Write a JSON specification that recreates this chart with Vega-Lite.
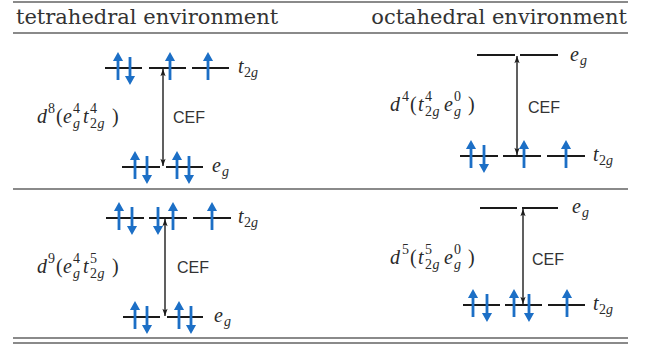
{
  "$schema": "https://vega.github.io/schema/vega-lite/v6.json",
  "width": 648,
  "height": 349,
  "autosize": {"type": "fit", "contains": "padding"},
  "padding": 0,
  "background": "white",
  "config": {"view": {"stroke": null}},
  "datasets": {
    "hlines": [
      {"x": 13, "x2": 628, "y": 2},
      {"x": 13, "x2": 628, "y": 33},
      {"x": 13, "x2": 628, "y": 189},
      {"x": 13, "x2": 628, "y": 338},
      {"x": 13, "x2": 628, "y": 343}
    ],
    "levels": [
      {"x": 105, "x2": 142, "y": 68}, {"x": 149, "x2": 186, "y": 68}, {"x": 192, "x2": 229, "y": 68},
      {"x": 122, "x2": 160, "y": 167}, {"x": 166, "x2": 203, "y": 167},
      {"x": 477, "x2": 515, "y": 55}, {"x": 520, "x2": 558, "y": 55},
      {"x": 460, "x2": 498, "y": 156}, {"x": 503, "x2": 541, "y": 156}, {"x": 547, "x2": 585, "y": 156},
      {"x": 106, "x2": 144, "y": 218}, {"x": 149, "x2": 187, "y": 218}, {"x": 193, "x2": 231, "y": 218},
      {"x": 123, "x2": 160, "y": 317}, {"x": 167, "x2": 203, "y": 317},
      {"x": 480, "x2": 517, "y": 208}, {"x": 522, "x2": 558, "y": 208},
      {"x": 463, "x2": 500, "y": 305}, {"x": 505, "x2": 542, "y": 305}, {"x": 548, "x2": 585, "y": 305}
    ],
    "spins": [
      {"x": 118, "y": 68, "dir": "up"}, {"x": 130, "y": 68, "dir": "down"}, {"x": 170, "y": 68, "dir": "up"}, {"x": 208, "y": 68, "dir": "up"},
      {"x": 135, "y": 167, "dir": "up"}, {"x": 147, "y": 167, "dir": "down"}, {"x": 177, "y": 167, "dir": "up"}, {"x": 189, "y": 167, "dir": "down"},
      {"x": 471, "y": 156, "dir": "up"}, {"x": 484, "y": 156, "dir": "down"}, {"x": 524, "y": 156, "dir": "up"}, {"x": 566, "y": 156, "dir": "up"},
      {"x": 119, "y": 218, "dir": "up"}, {"x": 132, "y": 218, "dir": "down"}, {"x": 158, "y": 218, "dir": "down"}, {"x": 173, "y": 218, "dir": "up"}, {"x": 212, "y": 218, "dir": "up"},
      {"x": 135, "y": 317, "dir": "up"}, {"x": 147, "y": 317, "dir": "down"}, {"x": 179, "y": 317, "dir": "up"}, {"x": 191, "y": 317, "dir": "down"},
      {"x": 473, "y": 305, "dir": "up"}, {"x": 487, "y": 305, "dir": "down"}, {"x": 514, "y": 305, "dir": "up"}, {"x": 529, "y": 305, "dir": "down"}, {"x": 567, "y": 305, "dir": "up"}
    ],
    "cef": [
      {"x": 163, "y": 69, "y2": 166},
      {"x": 517, "y": 56, "y2": 155},
      {"x": 165, "y": 219, "y2": 316},
      {"x": 523, "y": 209, "y2": 304}
    ],
    "heads": [
      {"x": 163, "y": 69, "dir": "up"}, {"x": 163, "y": 166, "dir": "down"},
      {"x": 517, "y": 56, "dir": "up"}, {"x": 517, "y": 155, "dir": "down"},
      {"x": 165, "y": 219, "dir": "up"}, {"x": 165, "y": 316, "dir": "down"},
      {"x": 523, "y": 209, "dir": "up"}, {"x": 523, "y": 304, "dir": "down"}
    ],
    "header": [
      {"x": 16, "y": 24, "text": "tetrahedral environment"},
      {"x": 627, "y": 24, "text": "octahedral environment"}
    ],
    "cefText": [
      {"x": 173, "y": 118, "text": "CEF"},
      {"x": 528, "y": 108, "text": "CEF"},
      {"x": 177, "y": 268, "text": "CEF"},
      {"x": 532, "y": 260, "text": "CEF"}
    ],
    "mathItalic": [
      {"x": 238, "y": 73, "text": "t"}, {"x": 212, "y": 172, "text": "e"},
      {"x": 570, "y": 61, "text": "e"}, {"x": 593, "y": 161, "text": "t"},
      {"x": 238, "y": 223, "text": "t"}, {"x": 214, "y": 322, "text": "e"},
      {"x": 572, "y": 213, "text": "e"}, {"x": 593, "y": 310, "text": "t"},
      {"x": 37, "y": 123, "text": "d"}, {"x": 63, "y": 123, "text": "e"}, {"x": 83, "y": 123, "text": "t"},
      {"x": 390, "y": 111, "text": "d"}, {"x": 418, "y": 111, "text": "t"}, {"x": 444, "y": 111, "text": "e"},
      {"x": 37, "y": 273, "text": "d"}, {"x": 63, "y": 273, "text": "e"}, {"x": 83, "y": 273, "text": "t"},
      {"x": 390, "y": 264, "text": "d"}, {"x": 418, "y": 264, "text": "t"}, {"x": 444, "y": 264, "text": "e"}
    ],
    "mathRoman": [
      {"x": 56, "y": 123, "text": "("}, {"x": 112, "y": 123, "text": ")"},
      {"x": 410, "y": 111, "text": "("}, {"x": 468, "y": 111, "text": ")"},
      {"x": 56, "y": 273, "text": "("}, {"x": 112, "y": 273, "text": ")"},
      {"x": 410, "y": 264, "text": "("}, {"x": 468, "y": 264, "text": ")"}
    ],
    "scriptRoman": [
      {"x": 244, "y": 77, "text": "2"}, {"x": 599, "y": 165, "text": "2"},
      {"x": 244, "y": 227, "text": "2"}, {"x": 599, "y": 314, "text": "2"},
      {"x": 48, "y": 113, "text": "8"}, {"x": 73, "y": 113, "text": "4"}, {"x": 90, "y": 113, "text": "4"}, {"x": 90, "y": 128, "text": "2"},
      {"x": 402, "y": 101, "text": "4"}, {"x": 425, "y": 101, "text": "4"}, {"x": 425, "y": 116, "text": "2"}, {"x": 454, "y": 101, "text": "0"},
      {"x": 48, "y": 263, "text": "9"}, {"x": 73, "y": 263, "text": "4"}, {"x": 90, "y": 263, "text": "5"}, {"x": 90, "y": 278, "text": "2"},
      {"x": 402, "y": 254, "text": "5"}, {"x": 425, "y": 254, "text": "5"}, {"x": 425, "y": 269, "text": "2"}, {"x": 454, "y": 254, "text": "0"}
    ],
    "scriptItalic": [
      {"x": 251, "y": 77, "text": "g"}, {"x": 222, "y": 176, "text": "g"},
      {"x": 580, "y": 65, "text": "g"}, {"x": 606, "y": 165, "text": "g"},
      {"x": 251, "y": 227, "text": "g"}, {"x": 224, "y": 326, "text": "g"},
      {"x": 582, "y": 217, "text": "g"}, {"x": 606, "y": 314, "text": "g"},
      {"x": 73, "y": 128, "text": "g"}, {"x": 97.5, "y": 128, "text": "g"},
      {"x": 432.5, "y": 116, "text": "g"}, {"x": 454, "y": 116, "text": "g"},
      {"x": 73, "y": 278, "text": "g"}, {"x": 97.5, "y": 278, "text": "g"},
      {"x": 432.5, "y": 269, "text": "g"}, {"x": 454, "y": 269, "text": "g"}
    ]
  },
  "layer": [
    {
      "data": {"name": "hlines"},
      "mark": {"type": "rule", "color": "#8a8a8a", "strokeWidth": 2},
      "encoding": {
        "x": {"field": "x", "type": "quantitative", "scale": {"domain": [0, 648], "nice": false}, "axis": null},
        "x2": {"field": "x2"},
        "y": {"field": "y", "type": "quantitative", "scale": {"domain": [0, 349], "reverse": true, "nice": false}, "axis": null}
      }
    },
    {
      "data": {"name": "levels"},
      "mark": {"type": "rule", "color": "#1a1a1a", "strokeWidth": 2},
      "encoding": {
        "x": {"field": "x", "type": "quantitative", "scale": {"domain": [0, 648], "nice": false}, "axis": null},
        "x2": {"field": "x2"},
        "y": {"field": "y", "type": "quantitative", "scale": {"domain": [0, 349], "reverse": true, "nice": false}, "axis": null}
      }
    },
    {
      "data": {"name": "cef"},
      "mark": {"type": "rule", "color": "#2b2b2b", "strokeWidth": 1.5},
      "encoding": {
        "x": {"field": "x", "type": "quantitative", "scale": {"domain": [0, 648], "nice": false}, "axis": null},
        "y": {"field": "y", "type": "quantitative", "scale": {"domain": [0, 349], "reverse": true, "nice": false}, "axis": null},
        "y2": {"field": "y2"}
      }
    },
    {
      "data": {"name": "heads"},
      "transform": [{"filter": "datum.dir === 'up'"}],
      "mark": {"type": "point", "filled": true, "color": "#1a1a1a", "opacity": 1, "strokeWidth": 0, "size": 64, "yOffset": 4, "shape": "M0,-1L0.65,0.8L0,0.35L-0.65,0.8Z"},
      "encoding": {
        "x": {"field": "x", "type": "quantitative", "scale": {"domain": [0, 648], "nice": false}, "axis": null},
        "y": {"field": "y", "type": "quantitative", "scale": {"domain": [0, 349], "reverse": true, "nice": false}, "axis": null}
      }
    },
    {
      "data": {"name": "heads"},
      "transform": [{"filter": "datum.dir === 'down'"}],
      "mark": {"type": "point", "filled": true, "color": "#1a1a1a", "opacity": 1, "strokeWidth": 0, "size": 64, "yOffset": -4, "shape": "M0,1L0.65,-0.8L0,-0.35L-0.65,-0.8Z"},
      "encoding": {
        "x": {"field": "x", "type": "quantitative", "scale": {"domain": [0, 648], "nice": false}, "axis": null},
        "y": {"field": "y", "type": "quantitative", "scale": {"domain": [0, 349], "reverse": true, "nice": false}, "axis": null}
      }
    },
    {
      "data": {"name": "spins"},
      "transform": [{"filter": "datum.dir === 'up'"}],
      "mark": {"type": "point", "filled": true, "color": "#1c6fc6", "opacity": 1, "strokeWidth": 0, "size": 784, "yOffset": -2, "shape": "M0,-1L0.36,-0.35L0.1,-0.35L0.1,1L-0.1,1L-0.1,-0.35L-0.36,-0.35Z"},
      "encoding": {
        "x": {"field": "x", "type": "quantitative", "scale": {"domain": [0, 648], "nice": false}, "axis": null},
        "y": {"field": "y", "type": "quantitative", "scale": {"domain": [0, 349], "reverse": true, "nice": false}, "axis": null}
      }
    },
    {
      "data": {"name": "spins"},
      "transform": [{"filter": "datum.dir === 'down'"}],
      "mark": {"type": "point", "filled": true, "color": "#1c6fc6", "opacity": 1, "strokeWidth": 0, "size": 784, "yOffset": 3, "shape": "M0,1L0.36,0.35L0.1,0.35L0.1,-1L-0.1,-1L-0.1,0.35L-0.36,0.35Z"},
      "encoding": {
        "x": {"field": "x", "type": "quantitative", "scale": {"domain": [0, 648], "nice": false}, "axis": null},
        "y": {"field": "y", "type": "quantitative", "scale": {"domain": [0, 349], "reverse": true, "nice": false}, "axis": null}
      }
    },
    {
      "data": {"name": "header"},
      "transform": [{"filter": "datum.x < 300"}],
      "mark": {"type": "text", "font": "DejaVu Serif", "fontSize": 21, "color": "#333333", "align": "left", "baseline": "alphabetic"},
      "encoding": {
        "x": {"field": "x", "type": "quantitative", "scale": {"domain": [0, 648], "nice": false}, "axis": null},
        "y": {"field": "y", "type": "quantitative", "scale": {"domain": [0, 349], "reverse": true, "nice": false}, "axis": null},
        "text": {"field": "text"}
      }
    },
    {
      "data": {"name": "header"},
      "transform": [{"filter": "datum.x >= 300"}],
      "mark": {"type": "text", "font": "DejaVu Serif", "fontSize": 21, "color": "#333333", "align": "right", "baseline": "alphabetic"},
      "encoding": {
        "x": {"field": "x", "type": "quantitative", "scale": {"domain": [0, 648], "nice": false}, "axis": null},
        "y": {"field": "y", "type": "quantitative", "scale": {"domain": [0, 349], "reverse": true, "nice": false}, "axis": null},
        "text": {"field": "text"}
      }
    },
    {
      "data": {"name": "cefText"},
      "mark": {"type": "text", "font": "Liberation Sans", "fontSize": 16, "color": "#333333", "align": "left", "baseline": "middle"},
      "encoding": {
        "x": {"field": "x", "type": "quantitative", "scale": {"domain": [0, 648], "nice": false}, "axis": null},
        "y": {"field": "y", "type": "quantitative", "scale": {"domain": [0, 349], "reverse": true, "nice": false}, "axis": null},
        "text": {"field": "text"}
      }
    },
    {
      "data": {"name": "mathItalic"},
      "mark": {"type": "text", "font": "Liberation Serif", "fontStyle": "italic", "fontSize": 20, "color": "#2a2a2a", "align": "left", "baseline": "alphabetic"},
      "encoding": {
        "x": {"field": "x", "type": "quantitative", "scale": {"domain": [0, 648], "nice": false}, "axis": null},
        "y": {"field": "y", "type": "quantitative", "scale": {"domain": [0, 349], "reverse": true, "nice": false}, "axis": null},
        "text": {"field": "text"}
      }
    },
    {
      "data": {"name": "mathRoman"},
      "mark": {"type": "text", "font": "Liberation Serif", "fontSize": 20, "color": "#2a2a2a", "align": "left", "baseline": "alphabetic"},
      "encoding": {
        "x": {"field": "x", "type": "quantitative", "scale": {"domain": [0, 648], "nice": false}, "axis": null},
        "y": {"field": "y", "type": "quantitative", "scale": {"domain": [0, 349], "reverse": true, "nice": false}, "axis": null},
        "text": {"field": "text"}
      }
    },
    {
      "data": {"name": "scriptRoman"},
      "mark": {"type": "text", "font": "Liberation Serif", "fontSize": 14, "color": "#2a2a2a", "align": "left", "baseline": "alphabetic"},
      "encoding": {
        "x": {"field": "x", "type": "quantitative", "scale": {"domain": [0, 648], "nice": false}, "axis": null},
        "y": {"field": "y", "type": "quantitative", "scale": {"domain": [0, 349], "reverse": true, "nice": false}, "axis": null},
        "text": {"field": "text"}
      }
    },
    {
      "data": {"name": "scriptItalic"},
      "mark": {"type": "text", "font": "Liberation Serif", "fontStyle": "italic", "fontSize": 14, "color": "#2a2a2a", "align": "left", "baseline": "alphabetic"},
      "encoding": {
        "x": {"field": "x", "type": "quantitative", "scale": {"domain": [0, 648], "nice": false}, "axis": null},
        "y": {"field": "y", "type": "quantitative", "scale": {"domain": [0, 349], "reverse": true, "nice": false}, "axis": null},
        "text": {"field": "text"}
      }
    }
  ]
}
